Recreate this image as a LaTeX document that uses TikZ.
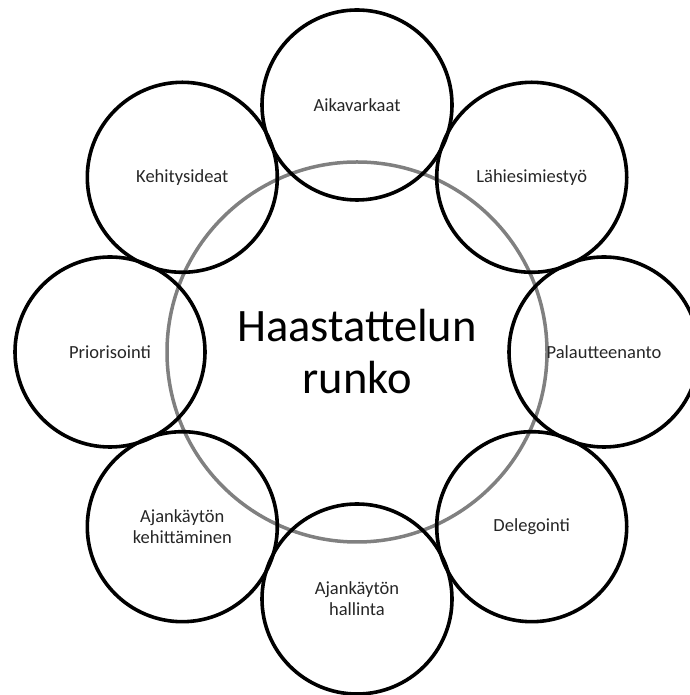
\documentclass[tikz,border=0pt]{standalone}
\usepackage{fontspec}
\setmainfont{Carlito}
\definecolor{ringgray}{RGB}{128,128,128}
\definecolor{txt}{RGB}{38,38,38}
\begin{document}
\begin{tikzpicture}[x=1pt,y=1pt,
  hub/.style={circle,draw=ringgray,line width=3.5pt,minimum size=380pt,inner sep=0pt,
    font=\fontsize{46.5}{52}\selectfont,align=center,text=black},
  topic/.style={circle,draw=black,line width=3.6pt,minimum size=190pt,inner sep=0pt,
    font=\fontsize{18.5}{21}\selectfont,align=center,text=txt}]
\useasboundingbox (0,0) rectangle (689,695);
\node[hub] (c) at (357,343) {Haastattelun\\runko};
\node[topic] (n1) at (357,590) {Aikavarkaat};
\node[topic] (n2) at (531.7,517.7) {Lähiesimiestyö};
\node[topic] (n3) at (604,343) {Palautteenanto};
\node[topic] (n4) at (531.7,168.3) {Delegointi};
\node[topic] (n5) at (357,96) {Ajankäytön\\hallinta};
\node[topic] (n6) at (182.3,168.3) {Ajankäytön\\kehittäminen};
\node[topic] (n7) at (110,343) {Priorisointi};
\node[topic] (n8) at (182.3,517.7) {Kehitysideat};
\end{tikzpicture}
\end{document}
